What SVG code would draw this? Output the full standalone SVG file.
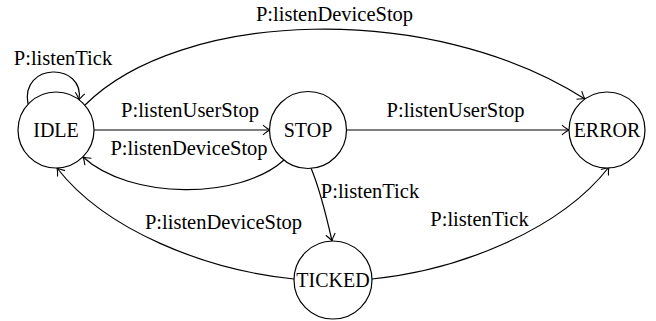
<svg xmlns="http://www.w3.org/2000/svg" width="656" height="321" viewBox="0 0 656 321">
  <style>
    .state { fill: #ffffff; stroke: #000000; stroke-width: 1.2; }
    .state-label { font-family: "Liberation Serif", "Times New Roman", serif; font-size: 20px; fill: #000000; text-anchor: middle; }
    .edge { fill: none; stroke: #000000; stroke-width: 1.2; marker-end: url(#arrow); }
    .edge-label { font-family: "Liberation Serif", "Times New Roman", serif; font-size: 20.5px; fill: #000000; text-anchor: middle; }
  </style>
  <defs>
    <marker id="arrow" viewBox="-8 -6 9 12" refX="0" refY="0" markerWidth="9" markerHeight="12" markerUnits="userSpaceOnUse" orient="auto">
      <path d="M-7,-4.8 Q-2.5,-1 0,0 Q-2.5,1 -7,4.8" fill="none" stroke="#000000" stroke-width="1.1"/>
    </marker>
  </defs>
  <rect width="656" height="321" fill="#ffffff"/>

  <g id="connectors">
    <!-- IDLE self loop -->
    <path class="edge" d="M28,104 C20,62 85,62 79,100"/>
    <!-- IDLE to ERROR, arching over the top -->
    <path class="edge" d="M85,105 C180,10 430,0 585,99"/>
    <!-- IDLE to STOP -->
    <path class="edge" d="M94,130 L270,130"/>
    <!-- STOP back to IDLE -->
    <path class="edge" d="M284,160 C240,200 130,200 83,157"/>
    <!-- STOP to ERROR -->
    <path class="edge" d="M346,130 L569,130"/>
    <!-- STOP to TICKED -->
    <path class="edge" d="M311,168 Q321,192 332,241"/>
    <!-- TICKED to IDLE -->
    <path class="edge" d="M294,279 C205,270 105,230 57,168"/>
    <!-- TICKED to ERROR -->
    <path class="edge" d="M372,279 C460,270 560,230 609,167"/>

    <text class="edge-label" x="334.5" y="21">P:listenDeviceStop</text>
    <text class="edge-label" x="63" y="65">P:listenTick</text>
    <text class="edge-label" x="190" y="117">P:listenUserStop</text>
    <text class="edge-label" x="189" y="155">P:listenDeviceStop</text>
    <text class="edge-label" x="455.5" y="117">P:listenUserStop</text>
    <text class="edge-label" x="370" y="198">P:listenTick</text>
    <text class="edge-label" x="223.5" y="229">P:listenDeviceStop</text>
    <text class="edge-label" x="479.5" y="226">P:listenTick</text>
  </g>

  <g id="node-idle">
    <circle class="state" cx="56" cy="130" r="38"/>
    <text class="state-label" x="56" y="137">IDLE</text>
  </g>
  <g id="node-stop">
    <circle class="state" cx="308" cy="130" r="38.5"/>
    <text class="state-label" x="308" y="137">STOP</text>
  </g>
  <g id="node-error">
    <circle class="state" cx="607" cy="130" r="38"/>
    <text class="state-label" x="607" y="137">ERROR</text>
  </g>
  <g id="node-ticked">
    <circle class="state" cx="333" cy="280" r="39"/>
    <text class="state-label" x="333" y="287">TICKED</text>
  </g>
</svg>
